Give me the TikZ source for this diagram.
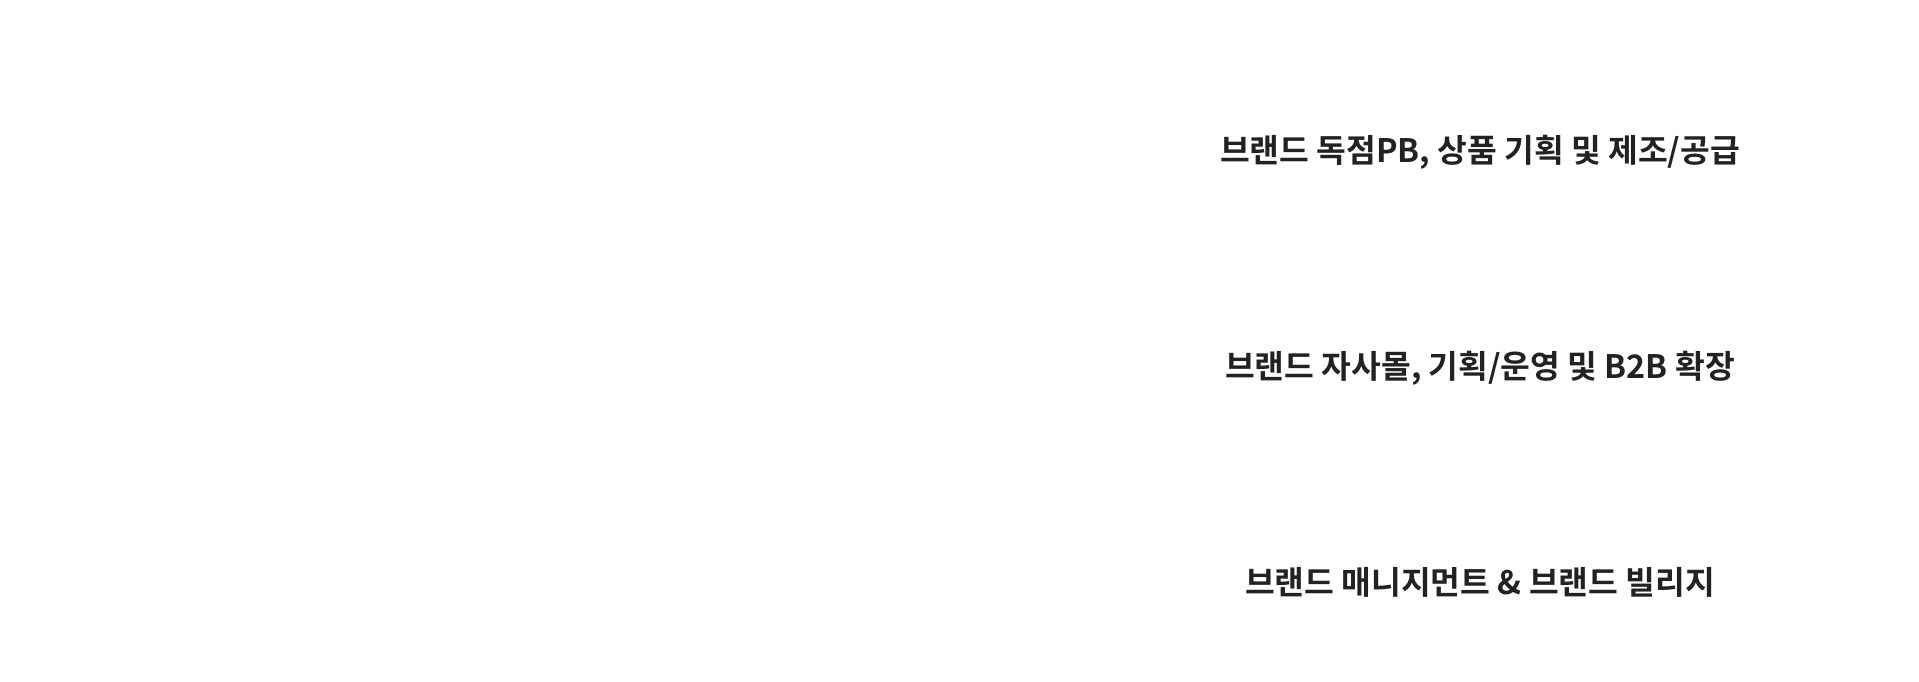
\documentclass[tikz,border=0pt]{standalone}
\usepackage{fontspec}
\newfontfamily\krfont{Noto Sans CJK KR}[BoldFont={* Bold}]
\definecolor{textdark}{HTML}{222222}
\begin{document}
\begin{tikzpicture}[biz/.style={text=textdark,font=\krfont\bfseries\fontsize{9.2}{11}\selectfont,inner sep=0pt}]
% Canvas
\useasboundingbox (0,0) rectangle (19.19,6.81);

% Business lines
\node[biz] (pb) at (14.80,5.29) {브랜드 독점PB, 상품 기획 및 제조/공급};
\node[biz] (mall) at (14.80,3.13) {브랜드 자사몰, 기획/운영 및 B2B 확장};
\node[biz] (mgmt) at (14.80,0.99) {브랜드 매니지먼트 \& 브랜드 빌리지};
\end{tikzpicture}
\end{document}
